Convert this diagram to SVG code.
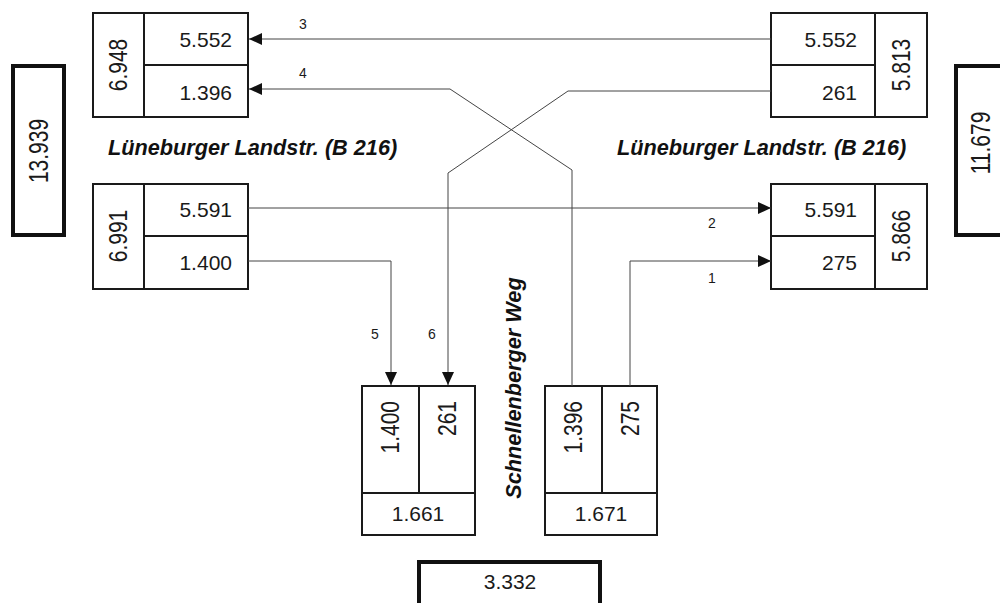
<svg xmlns="http://www.w3.org/2000/svg" width="1000" height="603" viewBox="0 0 1000 603">
<style>
.box{fill:#fff;stroke:#1a1a1a;stroke-width:2}
.thick{fill:#fff;stroke:#111;stroke-width:4}
.div{stroke:#1a1a1a;stroke-width:2;fill:none}
.num{font-family:"Liberation Sans",Arial,sans-serif;font-size:21px;fill:#1a1a1a}
.lbl{font-family:"Liberation Sans",Arial,sans-serif;font-size:14px;fill:#1a1a1a;text-anchor:middle}
.road{font-family:"Liberation Sans",Arial,sans-serif;font-size:21.7px;font-weight:bold;font-style:italic;fill:#111}
.con{fill:none;stroke:#444;stroke-width:1}
.arr{stroke:#444;stroke-width:1;fill:none;marker-end:url(#ah)}
</style>
<defs>
<marker id="ah" markerUnits="userSpaceOnUse" markerWidth="13" markerHeight="12" refX="13" refY="6" orient="auto">
<path d="M0,0 L13,6 L0,12 z" fill="#111"/>
</marker>
</defs>
<rect width="1000" height="603" fill="#fff"/>

<g id="total-west">
<rect class="thick" x="13" y="66" width="51" height="169"/>
<text class="num" text-anchor="middle" transform="translate(38,151) rotate(-90) scale(1,1.3)" y="7.5">13.939</text>
</g>
<g id="total-east">
<rect class="thick" x="956" y="66" width="60" height="169"/>
<text class="num" text-anchor="middle" transform="translate(980,143) rotate(-90) scale(1,1.3)" y="7.5">11.679</text>
</g>
<g id="total-south">
<rect class="thick" x="419" y="562" width="181" height="60"/>
<text class="num" text-anchor="middle" x="510" y="589">3.332</text>
</g>

<g id="node-nw">
<rect class="box" x="93" y="13" width="155" height="104"/>
<path class="div" d="M144,13 V117 M144,65 H248"/>
<text class="num" text-anchor="middle" transform="translate(118,65) rotate(-90) scale(1,1.25)" y="7.5">6.948</text>
<text class="num" text-anchor="end" x="232" y="47">5.552</text>
<text class="num" text-anchor="end" x="232" y="100">1.396</text>
</g>
<g id="node-sw">
<rect class="box" x="93" y="184" width="155" height="105"/>
<path class="div" d="M144,184 V289 M144,236 H248"/>
<text class="num" text-anchor="middle" transform="translate(118,236) rotate(-90) scale(1,1.25)" y="7.5">6.991</text>
<text class="num" text-anchor="end" x="232" y="217">5.591</text>
<text class="num" text-anchor="end" x="232" y="270">1.400</text>
</g>
<g id="node-ne">
<rect class="box" x="771" y="13" width="156" height="104"/>
<path class="div" d="M875,13 V117 M771,65 H875"/>
<text class="num" text-anchor="middle" transform="translate(901,65) rotate(-90) scale(1,1.25)" y="7.5">5.813</text>
<text class="num" text-anchor="end" x="857" y="47">5.552</text>
<text class="num" text-anchor="end" x="857" y="100">261</text>
</g>
<g id="node-se">
<rect class="box" x="771" y="184" width="156" height="105"/>
<path class="div" d="M875,184 V289 M771,236 H875"/>
<text class="num" text-anchor="middle" transform="translate(901,236) rotate(-90) scale(1,1.25)" y="7.5">5.866</text>
<text class="num" text-anchor="end" x="857" y="217">5.591</text>
<text class="num" text-anchor="end" x="857" y="270">275</text>
</g>
<g id="node-s-in">
<rect class="box" x="362" y="386" width="113" height="149"/>
<path class="div" d="M419,386 V493 M362,493 H475"/>
<text class="num" text-anchor="end" transform="translate(390,401) rotate(-90) scale(1,1.25)" y="7.5">1.400</text>
<text class="num" text-anchor="end" transform="translate(447,401) rotate(-90) scale(1,1.25)" y="7.5">261</text>
<text class="num" text-anchor="middle" x="418" y="521">1.661</text>
</g>
<g id="node-s-out">
<rect class="box" x="545" y="386" width="112" height="149"/>
<path class="div" d="M602,386 V493 M545,493 H657"/>
<text class="num" text-anchor="end" transform="translate(573,401) rotate(-90) scale(1,1.25)" y="7.5">1.396</text>
<text class="num" text-anchor="end" transform="translate(630,401) rotate(-90) scale(1,1.25)" y="7.5">275</text>
<text class="num" text-anchor="middle" x="601" y="521">1.671</text>
</g>

<g id="roads">
<text class="road" x="108" y="155">Lüneburger Landstr. (B 216)</text>
<text class="road" x="617" y="155">Lüneburger Landstr. (B 216)</text>
<text class="road" text-anchor="middle" transform="translate(513,388) rotate(-90)" y="7.5">Schnellenberger Weg</text>
</g>

<g id="connectors">
<path class="arr" d="M771,39 H249"/>
<path class="arr" d="M572,386 V170 L450,89 H249"/>
<path class="arr" d="M771,91 H568 L448,173 V385"/>
<path class="arr" d="M248,261 H391 V385"/>
<path class="arr" d="M248,208 H771"/>
<path class="arr" d="M630,386 V261 H771"/>
<text class="lbl" x="303" y="29">3</text>
<text class="lbl" x="303" y="78">4</text>
<text class="lbl" x="712" y="228">2</text>
<text class="lbl" x="712" y="283">1</text>
<text class="lbl" x="375" y="339">5</text>
<text class="lbl" x="432" y="339">6</text>
</g>
</svg>
